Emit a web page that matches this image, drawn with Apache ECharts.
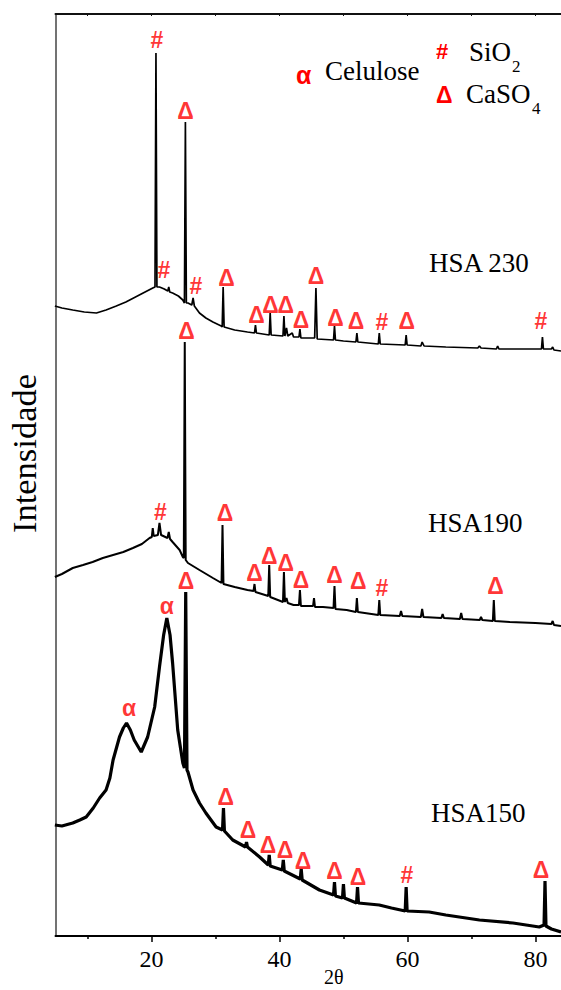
<!DOCTYPE html>
<html>
<head>
<meta charset="utf-8">
<script src="https://cdn.jsdelivr.net/npm/echarts@6/dist/echarts.min.js"></script>
<style>
  html, body { margin: 0; padding: 0; background: #fff; }
  #chart { width: 561px; height: 990px; }
</style>
</head>
<body>
<div id="chart"></div>
<script>
// [2θ, intensity] (arbitrary units)
const hsa230 = [
  [4.9, 630], [6, 628], [7.7, 626], [9.5, 624], [11.4, 623], [12.9, 626], [14.5, 630],
  [16, 634], [18.1, 641], [20.2, 648], [20.55, 649], [20.7, 883], [20.85, 649],
  [21.25, 649], [22.0, 647], [22.55, 645], [22.7, 649], [22.85, 644], [23.3, 643],
  [24.2, 640], [24.9, 636], [25.15, 633], [25.3, 814], [25.45, 633], [25.7, 633],
  [26.3, 631], [26.5, 638], [26.7, 630], [27.5, 623], [28.5, 618], [29.6, 614],
  [30.9, 610], [31.05, 609], [31.2, 649], [31.35, 609], [33, 606], [35, 604],
  [36.1, 603], [36.25, 611], [36.4, 603], [38.4, 601], [38.55, 623], [38.7, 601],
  [40.55, 600], [40.7, 620], [40.85, 600], [41.1, 608], [41.3, 600], [42.0, 603],
  [42.2, 599], [43.05, 599], [43.2, 607], [43.35, 598], [45.5, 598], [45.7, 648],
  [45.9, 597], [48.45, 596], [48.6, 610], [48.75, 596], [50, 595], [51.95, 594],
  [52.1, 603], [52.25, 594], [55.45, 592], [55.6, 603], [55.75, 592], [59.65, 591],
  [59.8, 601], [59.95, 591], [62.1, 590], [62.3, 594], [62.6, 590], [66, 589],
  [71.0, 588], [71.25, 590], [71.5, 588], [73.9, 587], [74.1, 590], [74.3, 587],
  [80.95, 587], [81.1, 599], [81.25, 587], [82.5, 587], [82.7, 589], [82.9, 586], [84, 585]
];
const hsa190 = [
  [4.9, 359], [6, 362], [7.7, 368], [9.3, 371], [10.8, 374], [12.4, 378], [14, 381],
  [15.6, 384], [17.1, 388], [18.5, 392], [19.7, 398], [20.05, 399], [20.2, 408],
  [20.35, 400], [21.0, 401], [21.25, 413], [21.5, 401], [22.5, 398], [22.7, 404],
  [22.9, 397], [23.3, 394], [24.4, 386], [24.9, 379], [25.05, 378], [25.2, 594],
  [25.35, 376], [25.7, 373], [27.5, 366], [29.6, 358], [30.95, 353], [31.1, 411],
  [31.25, 352], [33, 349], [35, 346], [35.95, 345], [36.1, 352], [36.25, 344],
  [38.25, 340], [38.4, 371], [38.55, 339], [40.55, 334], [40.7, 364], [40.85, 334],
  [41.1, 338], [41.3, 333], [42.2, 331], [43.05, 331], [43.2, 346], [43.35, 330],
  [45.25, 330], [45.4, 338], [45.55, 329], [46.8, 329], [48.45, 328], [48.6, 350],
  [48.75, 327], [50.5, 326], [51.95, 324], [52.1, 338], [52.25, 324], [55.45, 321],
  [55.6, 336], [55.75, 321], [58.8, 320], [59, 325], [59.2, 320], [62.1, 319],
  [62.3, 327], [62.5, 319], [65.3, 318], [65.5, 322], [65.7, 318], [68.2, 317],
  [68.4, 323], [68.6, 317], [71.3, 316], [71.5, 319], [71.7, 316], [73.35, 315],
  [73.5, 336], [73.65, 315], [76, 314], [80, 313], [82.5, 312], [82.7, 315],
  [82.9, 311], [84, 310]
];
const hsa150 = [
  [4.9, 111], [6, 110], [7.7, 113], [8.8, 116], [9.8, 119], [10.9, 128], [11.9, 138],
  [12.9, 146], [13.5, 158], [14, 176], [15, 199], [15.6, 208], [16.1, 213], [16.7, 206],
  [17.3, 196], [18.4, 184], [19.4, 199], [20.5, 229], [21.25, 269], [21.9, 301],
  [22.4, 318], [22.9, 301], [23.3, 273], [24.1, 206], [24.9, 173], [25.15, 168],
  [25.35, 344], [25.55, 166], [25.7, 164], [26.5, 146], [27.5, 133], [28.5, 123],
  [30.1, 109], [31.1, 106], [31.25, 128], [31.4, 105], [32.7, 96], [34.7, 89],
  [34.85, 94], [35.0, 89], [36.9, 79], [38.25, 71], [38.4, 81], [38.55, 70],
  [40.45, 66], [40.6, 76], [40.75, 65], [43.25, 57], [43.4, 67], [43.55, 56],
  [46.25, 46], [48.45, 41], [48.6, 54], [48.75, 40], [49.85, 38], [50.0, 52],
  [50.15, 38], [52.05, 33], [52.2, 49], [52.35, 33], [55.6, 31], [57.5, 28],
  [59.65, 25], [59.8, 49], [59.95, 25], [63.4, 24], [66, 21], [71.25, 16],
  [76.5, 13], [80.6, 9], [81.35, 11], [81.5, 55], [81.65, 10], [82.5, 7], [84, 4]
];
// phase markers: [2θ, height, glyph]
const markers = [
  [20.86, 896, '#'], [25.31, 825, 'Δ'], [21.95, 666, '#'], [26.95, 650, '#'],
  [31.72, 658, 'Δ'], [36.4, 621, 'Δ'], [38.6, 631, 'Δ'], [41.0, 631, 'Δ'],
  [43.36, 616, 'Δ'], [45.7, 660, 'Δ'], [48.75, 618, 'Δ'], [51.95, 615, 'Δ'],
  [56.0, 614, '#'], [59.9, 615, 'Δ'], [80.86, 615, '#'],
  [21.4, 424, '#'], [25.47, 605, 'Δ'], [31.5, 423, 'Δ'], [36.1, 363, 'Δ'],
  [38.4, 380, 'Δ'], [41.0, 373, 'Δ'], [43.36, 356, 'Δ'], [48.6, 361, 'Δ'],
  [52.3, 355, 'Δ'], [56.0, 348, '#'], [73.75, 350, 'Δ'],
  [16.5, 228, 'α'], [22.4, 330, 'α'], [25.4, 355, 'Δ'], [31.6, 139, 'Δ'],
  [35.1, 106, 'Δ'], [38.2, 91, 'Δ'], [40.86, 86, 'Δ'], [43.67, 75, 'Δ'],
  [48.6, 65, 'Δ'], [52.27, 59, 'Δ'], [59.92, 61, '#'], [80.86, 66, 'Δ']
];
const majorTicks = [20, 40, 60, 80];
const minorTicks = [10, 30, 50, 70];

const serif = 'Liberation Serif';
const red = '#ff0000';

function curve(name, data, width) {
  return {
    name: name, type: 'line', data: data, showSymbol: false, silent: true,
    lineStyle: { color: '#000', width: width }, z: 2
  };
}

function txt(x, y, text, font, color, rotation) {
  return {
    type: 'text', x: x, y: y, rotation: rotation || 0,
    style: { text: text, fill: color || '#000', font: font,
             textAlign: rotation ? 'center' : 'left', textVerticalAlign: 'middle' }
  };
}
const serifFont = size => size + 'px "' + serif + '"';
const symFont = size => 'bold ' + size + 'px "Liberation Sans"';

const chart = echarts.init(document.getElementById('chart'), null, { renderer: 'svg' });
chart.setOption({
  animation: false,
  grid: { left: 55.5, right: 0, top: 14, bottom: 54, outerBoundsMode: 'none', containLabel: false },
  xAxis: [
    {
      type: 'value', min: 5, max: 84, position: 'bottom',
      name: '2θ', nameLocation: 'middle', nameGap: 31, nameMoveOverlap: false,
      nameTextStyle: { fontFamily: serif, fontSize: 20, color: '#000', padding: [0, 0, 0, 51] },
      axisLine: { lineStyle: { color: '#000', width: 2 } },
      axisTick: { customValues: majorTicks, length: 6, lineStyle: { color: '#000', width: 1.5 } },
      axisLabel: { customValues: majorTicks, margin: 11, fontFamily: serif, fontSize: 24, color: '#000' },
      splitLine: { show: false }
    },
    {
      type: 'value', min: 5, max: 84, position: 'bottom',
      axisLine: { show: false },
      axisTick: { customValues: minorTicks, length: 3, lineStyle: { color: '#000', width: 1.5 } },
      axisLabel: { show: false },
      splitLine: { show: false }
    },
    {
      type: 'value', min: 5, max: 84, position: 'top',
      axisLine: { lineStyle: { color: '#111', width: 2 } },
      axisTick: { customValues: minorTicks.concat(majorTicks), inside: true, length: 2,
                  lineStyle: { color: '#111', width: 1 } },
      axisLabel: { show: false },
      splitLine: { show: false }
    }
  ],
  yAxis: {
    type: 'value', min: 0, max: 922,
    axisLine: { show: true, lineStyle: { color: '#444', width: 1.5 } },
    axisTick: { show: false }, axisLabel: { show: false }, splitLine: { show: false }
  },
  series: [
    curve('HSA 230', hsa230, 1.7),
    curve('HSA190', hsa190, 2),
    curve('HSA150', hsa150, 3.2),
    {
      name: 'markers', type: 'scatter', data: markers, symbolSize: 1, silent: true,
      itemStyle: { color: 'rgba(0,0,0,0)' }, z: 3,
      label: {
        show: true, position: 'inside', formatter: p => p.data[2],
        color: red, fontFamily: 'Liberation Sans', fontWeight: 'bold', fontSize: 23
      }
    }
  ],
  graphic: [
    txt(24, 453.5, 'Intensidade', serifFont(34.5), '#000', Math.PI / 2),
    txt(429, 262.5, 'HSA 230', serifFont(27)),
    txt(428, 522.5, 'HSA190', serifFont(27)),
    txt(431, 813, 'HSA150', serifFont(27)),
    txt(296, 75, 'α', symFont(25), red),
    txt(325, 71, 'Celulose', serifFont(27)),
    txt(436, 51.5, '#', symFont(22), red),
    txt(469, 51.5, 'SiO', serifFont(27)),
    txt(512, 66.5, '2', serifFont(17)),
    txt(436, 95, 'Δ', symFont(23), red),
    txt(466, 94, 'CaSO', serifFont(27)),
    txt(532, 108, '4', serifFont(17))
  ]
});
</script>
</body>
</html>
